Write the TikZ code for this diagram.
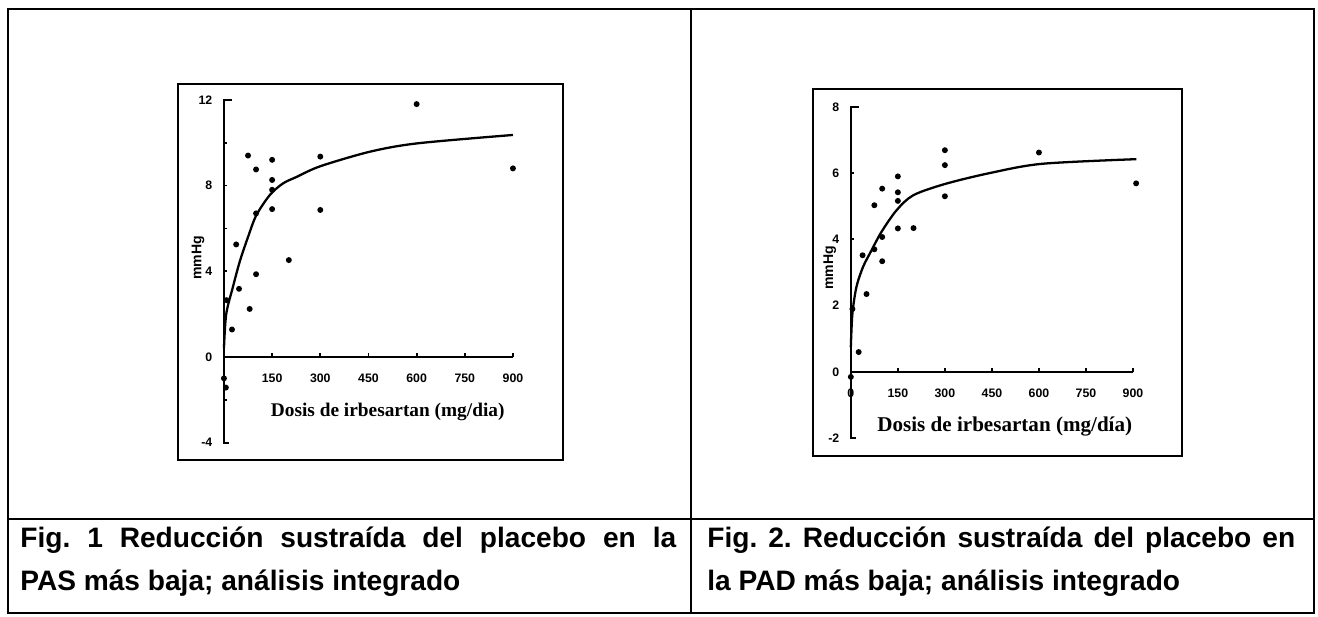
\documentclass[tikz,border=0pt]{standalone}
\usepackage{fontspec}
\setmainfont{Liberation Serif}
\setsansfont{Liberation Sans}
\frenchspacing
\tikzset{
  punto/.style={circle,fill=black,inner sep=0pt,minimum size=3.4pt},
  marco/.style={line width=1.3pt},
  eje/.style={line width=1pt},
  curva/.style={line width=1.3pt},
  etiq/.style={font=\sffamily\bfseries\fontsize{7}{8}\selectfont,inner sep=1pt},
  titulo/.style={font=\bfseries\fontsize{11}{12}\selectfont,inner sep=0pt},
  unidad/.style={font=\sffamily\bfseries\fontsize{8}{9}\selectfont,rotate=90,inner sep=0pt},
  leyenda/.style={font=\sffamily\bfseries\fontsize{16}{18}\selectfont,anchor=base west,inner sep=0pt}
}
\begin{document}
\begin{tikzpicture}[x=0.02cm,y=-0.02cm]
\useasboundingbox (0,0) rectangle (1318,616);
% Tabla
\draw[line width=0.9pt] (8,9) rectangle (1314,613);
\draw[line width=0.9pt] (691,9) -- (691,613);
\draw[line width=0.9pt] (8,519) -- (1314,519);

% Figura 1: PAS
\draw[marco] (178,84) rectangle (563,460);
\begin{scope}[xshift=4.48cm,yshift=-7.14cm,x=0.0064222cm,y=0.4286cm]
\draw[eje] (25,12) -- (0,12) -- (0,-4) -- (15,-4);
\draw[eje] (0,0) -- (900,0);
\foreach \y in {-2,2,4,6,8,10} \draw[eje] (0,\y) -- (10,\y);
\foreach \x in {150,300,...,900} \draw[eje] (\x,0) -- (\x,0.2);
\foreach[count=\i] \y in {12,8,4,0,-4} \node[etiq,left] (ya\i) at (-30,\y) {\y};
\foreach[count=\i] \x in {150,300,...,900} \node[etiq] (xa\i) at (\x,-0.98) {\x};
\node[titulo] (ta) at (510,-2.57) {Dosis de irbesartan (mg/dia)};
\node[unidad] (ua) at (-81,4.62) {mmHg};
\foreach[count=\i] \p in {(600,11.8),(75,9.4),(100,8.75),(150,9.2),(150,8.26),
  (150,7.8),(150,6.9),(100,6.7),(300,9.35),(300,6.86),(900,8.8),(38,5.25),
  (47,3.18),(100,3.86),(80,2.24),(25,1.28),(202,4.52),(8,2.65),(0,-1.0),(6,-1.43)}
  \node[punto] (pa\i) at \p {};
\draw[curva] plot[smooth,tension=0.5] coordinates {(0,0.4) (7,2.0) (28,3.27)
  (49,4.44) (75,5.6) (101,6.62) (143,7.56) (184,8.1) (226,8.4) (300,8.9)
  (455,9.58) (603,9.97) (900,10.36)};
\end{scope}

% Figura 2: PAD
\draw[marco] (813,89) rectangle (1182,456);
\begin{scope}[xshift=17.02cm,yshift=-7.44cm,x=0.0062667cm,y=0.663cm]
\draw[eje] (25,8) -- (0,8) -- (0,-2) -- (15,-2);
\draw[eje] (0,0) -- (900,0);
\foreach \y in {2,4,6} \draw[eje] (0,\y) -- (10,\y);
\foreach \x in {150,300,...,900} \draw[eje] (\x,0) -- (\x,0.13);
\foreach[count=\i] \y in {8,6,4,2,0,-2} \node[etiq,left] (yb\i) at (-30,\y) {\y};
\foreach[count=\i] \x in {0,150,300,...,900} \node[etiq] (xb\i) at (\x,-0.63) {\x};
\node[titulo,font=\bfseries\fontsize{12}{13}\selectfont] (tb) at (491,-1.66) {Dosis de irbesartan (mg/día)};
\node[unidad] (ub) at (-67,3.14) {mmHg};
\foreach[count=\i] \p in {(300,6.69),(300,6.24),(300,5.3),(600,6.62),(910,5.69),
  (150,5.9),(150,5.42),(150,5.16),(150,4.33),(200,4.34),(100,5.53),(75,5.03),
  (75,3.7),(100,4.07),(100,3.34),(37.5,3.52),(50,2.35),(25,0.6),(5,1.9),(0,-0.15)}
  \node[punto] (pb\i) at \p {};
\draw[curva] plot[smooth,tension=0.5] coordinates {(0,0.75) (5,1.76) (18,2.57)
  (39,3.17) (66,3.67) (98,4.23) (146,4.88) (199,5.33) (300,5.67) (443,6.0)
  (610,6.28) (911,6.42)};
\end{scope}

% Leyendas
\node[leyenda] (la1) at (20,547) {\makebox[13.12cm][s]{Fig. 1 Reducción sustraída del placebo en la}};
\node[leyenda] (la2) at (20,590) {PAS más baja; análisis integrado};
\node[leyenda] (lb1) at (707,547) {\makebox[11.76cm][s]{Fig. 2. Reducción sustraída del placebo en}};
\node[leyenda] (lb2) at (707,590) {la PAD más baja; análisis integrado};
\end{tikzpicture}
\end{document}
